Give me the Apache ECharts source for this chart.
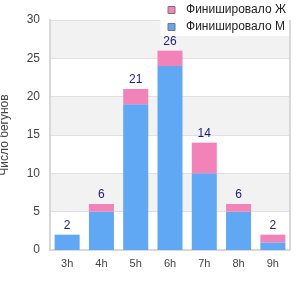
<!DOCTYPE html>
<html><head><meta charset="utf-8">
<script src="https://cdn.jsdelivr.net/npm/echarts@6/dist/echarts.min.js"></script>
<style>html,body{margin:0;padding:0;background:#fff}#c{width:300px;height:300px}</style>
</head><body><div id="c"></div>
<script>
const categories = ["3h","4h","5h","6h","7h","8h","9h"];
const men = [2,5,19,24,10,5,1];
const women = [0,1,2,2,4,1,1];
const totals = [2,6,21,26,14,6,2];
const yTicks = [0,5,10,15,20,25,30];

const F = 'Liberation Sans';
const chart = echarts.init(document.getElementById('c'), null, {renderer:'canvas'});
chart.setOption({
  animation:false,
  textStyle:{fontFamily:F},
  grid:{left:50,right:10,top:20,bottom:50,show:false,containLabel:false,outerBoundsMode:'none'},
  legend:{
    data:['Финишировало Ж','Финишировало М'],
    orient:'vertical', right:0, top:0, itemGap:5,
    itemWidth:7, itemHeight:7, icon:'rect',
    backgroundColor:'#fff', padding:[4,14,3,7],
    textStyle:{fontSize:12,color:'#222',fontFamily:F,padding:[0,0,0,6]},
    itemStyle:{borderColor:'#777',borderWidth:1}
  },
  xAxis:{type:'category',data:categories,
    axisLine:{lineStyle:{color:'#d8d8d8',width:2}},axisTick:{show:false},
    axisLabel:{color:'#444',fontSize:11,margin:8}},
  yAxis:{type:'value',min:0,max:30,interval:5,
    name:'Число бегунов',nameLocation:'middle',nameGap:39,
    nameTextStyle:{color:'#444',fontSize:12},
    axisLine:{show:true,lineStyle:{color:'#d8d8d8',width:2}},
    axisLabel:{color:'#444',fontSize:12,margin:10,formatter:v=>yTicks.includes(v)?String(v):''},
    splitLine:{lineStyle:{color:'#e0e0e0'}},
    splitArea:{show:true,areaStyle:{color:['#ffffff','#f2f2f2']}}},
  series:[
    {name:'Финишировало М',type:'bar',stack:'a',data:men,barWidth:'73%',
      itemStyle:{color:'#60a8f3'}},
    {name:'Финишировало Ж',type:'bar',stack:'a',data:women,
      itemStyle:{color:'#f283b9'},
      label:{show:true,position:'top',color:'#1c1c8c',fontSize:12,distance:3,
        formatter:p=>String(totals[p.dataIndex])}}
  ],
  graphic:[{type:'rect',shape:{x:289,y:20,width:2,height:230},style:{fill:'#d8d8d8'},z:10}]
});
</script></body></html>
